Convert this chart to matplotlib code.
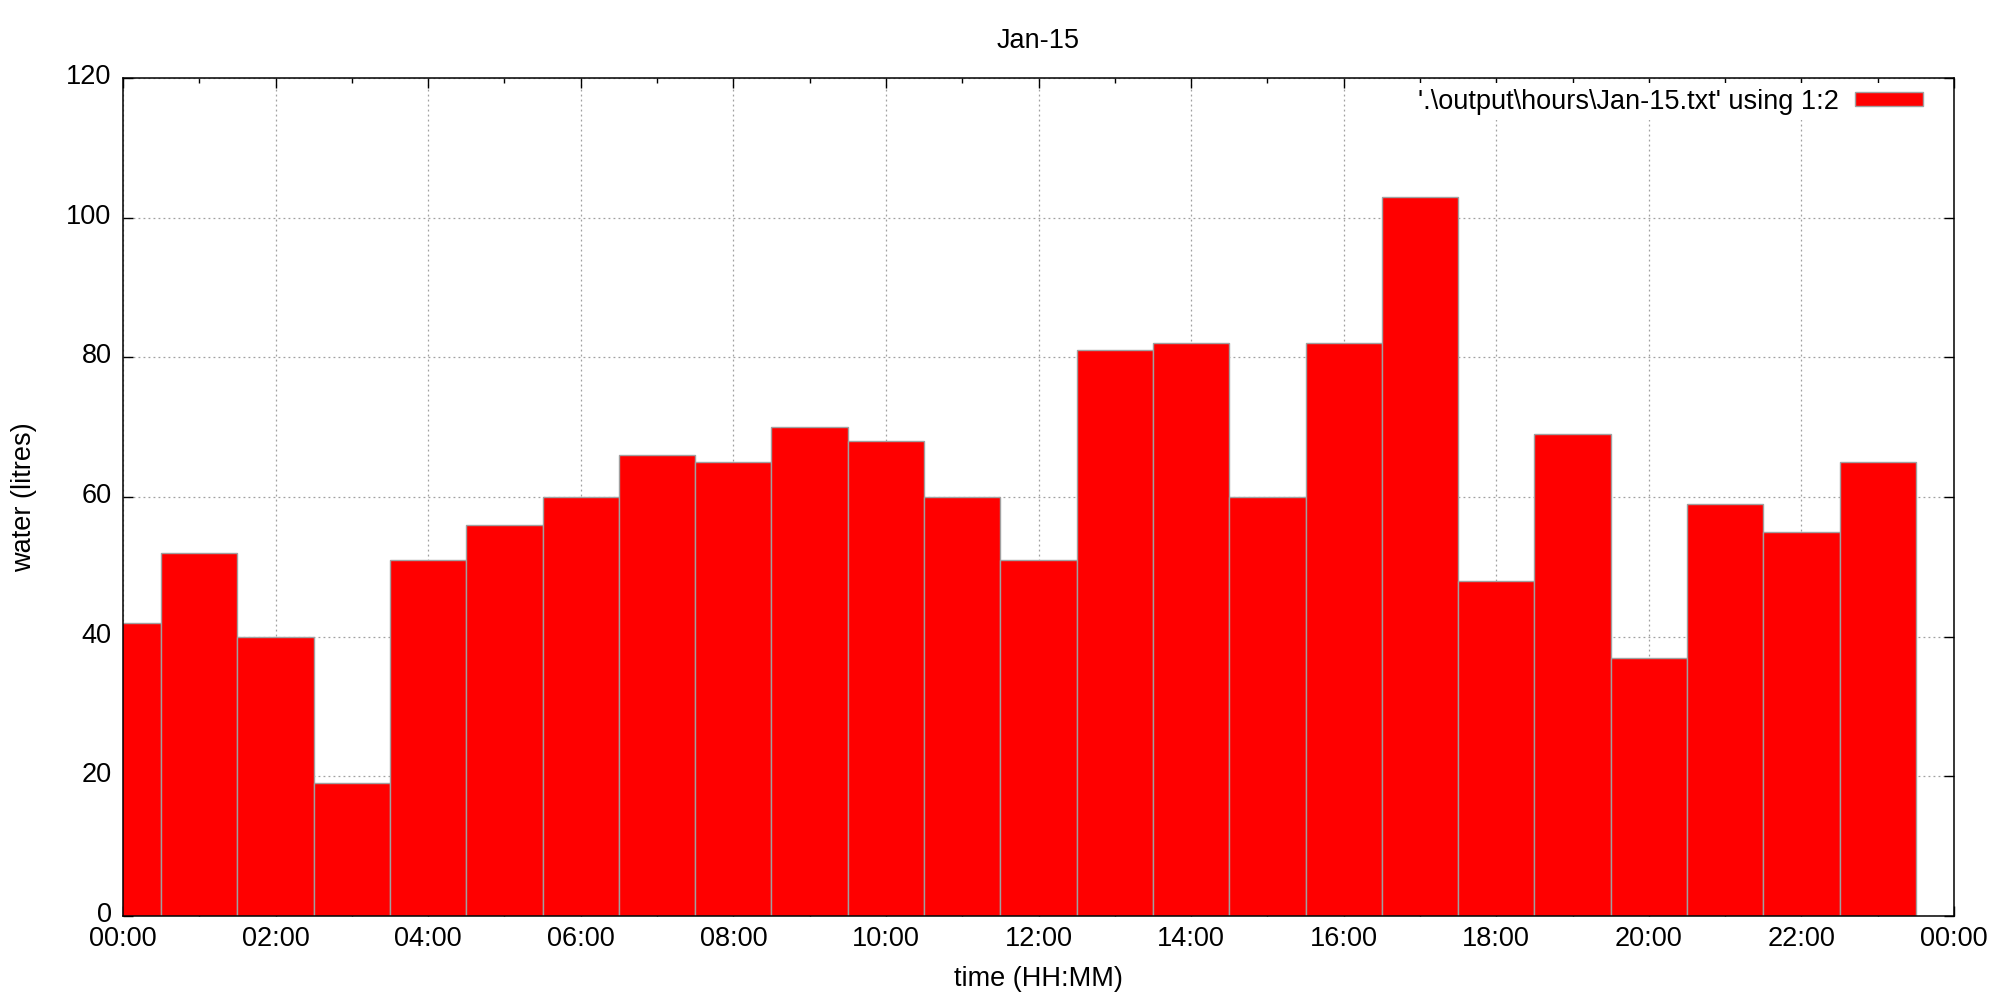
import matplotlib
matplotlib.use('Agg')
import matplotlib.pyplot as plt
from matplotlib.ticker import MultipleLocator, FuncFormatter
from matplotlib.transforms import ScaledTranslation

plt.rcParams['font.family'] = ['Liberation Sans', 'DejaVu Sans']

# hourly water use for Jan-15
hours = [0, 1, 2, 3, 4, 5, 6, 7, 8, 9, 10, 11,
         12, 13, 14, 15, 16, 17, 18, 19, 20, 21, 22, 23]
litres = [42, 52, 40, 19, 51, 56, 60, 66, 65, 70, 68, 60,
          51, 81, 82, 60, 82, 103, 48, 69, 37, 59, 55, 65]
series_label = "'.\\output\\hours\\Jan-15.txt' using 1:2"

fs = 19.5

fig = plt.figure(figsize=(20, 10), dpi=100)
ax = fig.add_axes([0.0615, 0.084, 0.9155, 0.838])

ax.bar(hours, litres, width=1.0, color='#ff0000', edgecolor='#a0a0a0',
       linewidth=1.0, label=series_label, zorder=2)

ax.set_xlim(0, 24)
ax.set_ylim(0, 120)
ax.xaxis.set_major_locator(MultipleLocator(2))
ax.xaxis.set_minor_locator(MultipleLocator(1))
ax.yaxis.set_major_locator(MultipleLocator(20))
ax.xaxis.set_major_formatter(FuncFormatter(lambda v, p: f'{int(v) % 24:02d}:00'))

ax.tick_params(which='both', direction='in', top=True, right=True,
               labelsize=fs, width=1.0)
ax.tick_params(which='major', length=7)
ax.tick_params(which='minor', length=3.5)
ax.tick_params(axis='x', pad=7)
ax.tick_params(axis='y', pad=8.2)

# gnuplot puts the y labels a touch above the tick
shift = ScaledTranslation(0, 4 / 100, fig.dpi_scale_trans)
for lbl in ax.get_yticklabels():
    lbl.set_transform(lbl.get_transform() + shift)

ax.grid(True, which='major', color='#a0a0a0', linestyle=(0, (1.5, 2.5)),
        linewidth=0.9, zorder=0)
ax.set_axisbelow(True)
for s in ax.spines.values():
    s.set_linewidth(1.1)

ax.set_title('Jan-15', fontsize=fs, pad=21.5)
ax.set_xlabel('time (HH:MM)', fontsize=fs, labelpad=10.5)
ax.set_ylabel('water (litres)', fontsize=fs, labelpad=21)

leg = ax.legend(loc='upper right', bbox_to_anchor=(0.989, 1.0), fontsize=fs,
                markerfirst=False, frameon=True, fancybox=False, framealpha=1.0,
                handlelength=2.5, handleheight=0.45, handletextpad=0.6,
                borderaxespad=0.2, borderpad=0.2)
leg.get_frame().set_edgecolor('none')
leg.get_frame().set_facecolor('white')

fig.savefig('out.png', dpi=100)
